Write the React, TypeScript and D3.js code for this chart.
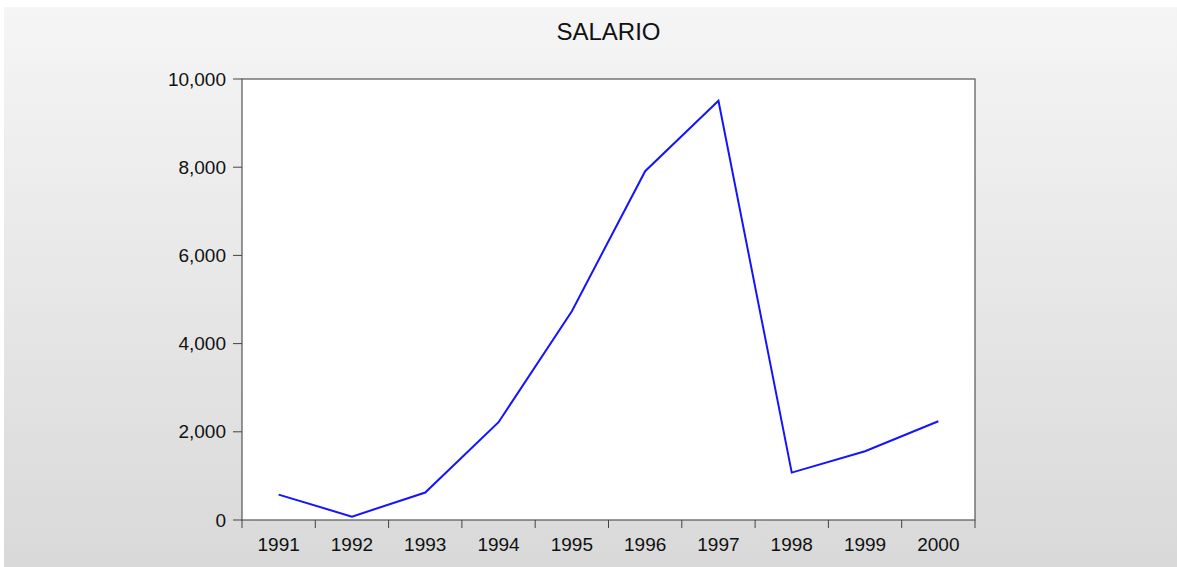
import React from "react";
import * as d3 from "d3";

const years = ["1991", "1992", "1993", "1994", "1995", "1996", "1997", "1998", "1999", "2000"];
const salario = [576, 77, 622, 2217, 4735, 7910, 9507, 1075, 1560, 2240];
const yTicks = [0, 2000, 4000, 6000, 8000, 10000];
const title = "SALARIO";

export default function App() {
  const W = 1177, H = 567;
  const left = 242, right = 975, top = 79, bottom = 520;
  const x = d3.scaleBand<string>().domain(years).range([left, right]).padding(0);
  const y = d3.scaleLinear().domain([0, 10000]).range([bottom, top]);
  const line = d3.line<number>()
    .x((_, i) => (x(years[i]) as number) + x.bandwidth() / 2)
    .y((d) => y(d));
  const fmt = d3.format(",");
  const font = "'Liberation Sans', Arial, sans-serif";
  const boundaries = years.map((yr) => x(yr) as number).concat([right]);
  return (
    <svg width={W} height={H} style={{ position: "absolute", left: 0, top: 0 }}>
      <defs>
        <linearGradient id="bg" x1="0" y1="0" x2="0" y2="1">
          <stop offset="0" stopColor="#f5f5f5" />
          <stop offset="1" stopColor="#d9d9d9" />
        </linearGradient>
      </defs>
      <rect x={0} y={0} width={W} height={H} fill="#ffffff" />
      <rect x={4} y={7} width={W - 4} height={H - 7} fill="url(#bg)" />
      <text x={(left + right) / 2} y={31} textAnchor="middle" dominantBaseline="central"
        fontFamily={font} fontSize={24} fill="#111">{title}</text>
      <rect x={left} y={top} width={right - left} height={bottom - top} fill="#ffffff" stroke="#555" strokeWidth={1.2} />
      {yTicks.map((t) => (
        <g key={t}>
          <line x1={left - 9} x2={left} y1={y(t)} y2={y(t)} stroke="#444" strokeWidth={1} />
          <text x={226} y={y(t)} textAnchor="end" dominantBaseline="central"
            fontFamily={font} fontSize={19} fill="#111">{fmt(t)}</text>
        </g>
      ))}
      {boundaries.map((b, i) => (
        <line key={i} x1={b} x2={b} y1={bottom} y2={bottom + 8} stroke="#444" strokeWidth={1} />
      ))}
      {years.map((yr) => (
        <text key={yr} x={(x(yr) as number) + x.bandwidth() / 2} y={544} textAnchor="middle"
          dominantBaseline="central" fontFamily={font} fontSize={19} fill="#111">{yr}</text>
      ))}
      <path d={line(salario) || ""} fill="none" stroke="#1414ff" strokeWidth={2} strokeLinejoin="miter" />
    </svg>
  );
}
